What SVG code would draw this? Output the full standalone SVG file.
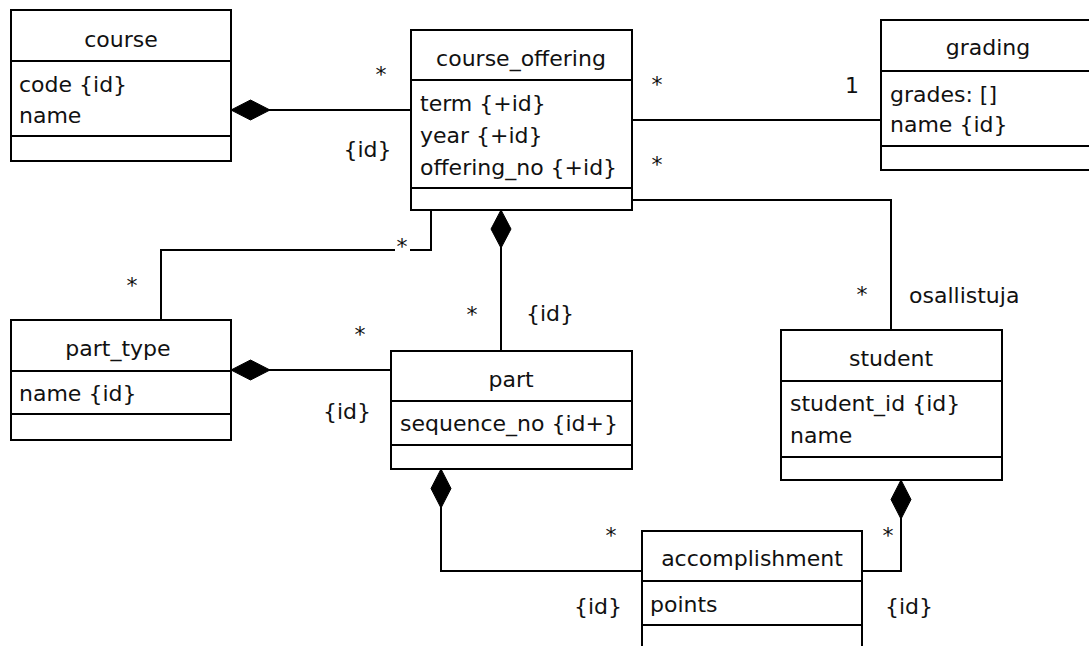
<svg xmlns="http://www.w3.org/2000/svg" width="1089" height="646" viewBox="0 0 1089 646">
<style>
.box{fill:#fff;stroke:#000;stroke-width:2}
.sep{stroke:#000;stroke-width:2}
.ln{fill:none;stroke:#000;stroke-width:2}
.dia{fill:#000;stroke:#000;stroke-width:1}
text{font-family:"DejaVu Sans","Liberation Sans",sans-serif;font-size:22px;fill:#111}
.t{text-anchor:middle}
.m{text-anchor:middle}
</style>
<rect width="1089" height="646" fill="#fff"/>
<g id="connectors">
<path class="ln" d="M231,110 H411"/>
<polygon class="dia" points="231,110 250.5,100 270,110 250.5,120"/>
<path class="ln" d="M632,120 H881"/>
<path class="ln" d="M632,200 H891 V330"/>
<path class="ln" d="M431,210 V250 H410 M395,250 H161 V320"/>
<path class="ln" d="M231,370 H391"/>
<polygon class="dia" points="231,370 250.5,360 270,370 250.5,380"/>
<path class="ln" d="M501,210 V351"/>
<polygon class="dia" points="501,210 511,229 501,248 491,229"/>
<path class="ln" d="M441,469 V571 H642"/>
<polygon class="dia" points="441,469 451,488.5 441,508 431,488.5"/>
<path class="ln" d="M901,480 V571 H862"/>
<polygon class="dia" points="901,480 911,499.5 901,519 891,499.5"/>
<text class="m" x="381" y="82">*</text>
<text class="m" x="367.5" y="157">{id}</text>
<text class="m" x="657" y="92">*</text>
<text class="m" x="852" y="93">1</text>
<text class="m" x="657" y="172">*</text>
<text class="m" x="862" y="302">*</text>
<text x="909" y="303">osallistuja</text>
<text class="m" x="402" y="254">*</text>
<text class="m" x="132" y="293">*</text>
<text class="m" x="360" y="342">*</text>
<text class="m" x="347" y="419">{id}</text>
<text class="m" x="472" y="322">*</text>
<text class="m" x="550" y="321">{id}</text>
<text class="m" x="611" y="543">*</text>
<text class="m" x="598" y="614">{id}</text>
<text class="m" x="888" y="543">*</text>
<text class="m" x="909" y="614">{id}</text>
</g>
<g id="course">
<rect class="box" x="11" y="10" width="220" height="151"/>
<line class="sep" x1="11" y1="61" x2="231" y2="61"/>
<line class="sep" x1="11" y1="136" x2="231" y2="136"/>
<text class="t" x="121" y="47">course</text>
<text x="19" y="92">code {id}</text>
<text x="19" y="123">name</text>
</g>
<g id="course_offering">
<rect class="box" x="411" y="30" width="221" height="180"/>
<line class="sep" x1="411" y1="80" x2="632" y2="80"/>
<line class="sep" x1="411" y1="188" x2="632" y2="188"/>
<text class="t" x="521" y="66">course_offering</text>
<text x="420" y="111">term {+id}</text>
<text x="420" y="143">year {+id}</text>
<text x="420" y="175">offering_no {+id}</text>
</g>
<g id="grading">
<rect class="box" x="881" y="20" width="220" height="150"/>
<line class="sep" x1="881" y1="71" x2="1101" y2="71"/>
<line class="sep" x1="881" y1="146" x2="1101" y2="146"/>
<text class="t" x="988" y="55">grading</text>
<text x="890" y="102">grades: []</text>
<text x="890" y="132">name {id}</text>
</g>
<g id="part_type">
<rect class="box" x="11" y="320" width="220" height="120"/>
<line class="sep" x1="11" y1="371" x2="231" y2="371"/>
<line class="sep" x1="11" y1="414" x2="231" y2="414"/>
<text class="t" x="118" y="356">part_type</text>
<text x="19" y="401">name {id}</text>
</g>
<g id="part">
<rect class="box" x="391" y="351" width="241" height="118"/>
<line class="sep" x1="391" y1="401" x2="632" y2="401"/>
<line class="sep" x1="391" y1="445" x2="632" y2="445"/>
<text class="t" x="511" y="387">part</text>
<text x="400" y="431">sequence_no {id+}</text>
</g>
<g id="student">
<rect class="box" x="781" y="330" width="221" height="150"/>
<line class="sep" x1="781" y1="381" x2="1002" y2="381"/>
<line class="sep" x1="781" y1="457" x2="1002" y2="457"/>
<text class="t" x="891" y="366">student</text>
<text x="790" y="411">student_id {id}</text>
<text x="790" y="443">name</text>
</g>
<g id="accomplishment">
<rect class="box" x="642" y="531" width="220" height="140"/>
<line class="sep" x1="642" y1="581" x2="862" y2="581"/>
<line class="sep" x1="642" y1="625" x2="862" y2="625"/>
<text class="t" x="752" y="566">accomplishment</text>
<text x="650" y="612">points</text>
</g>
</svg>
